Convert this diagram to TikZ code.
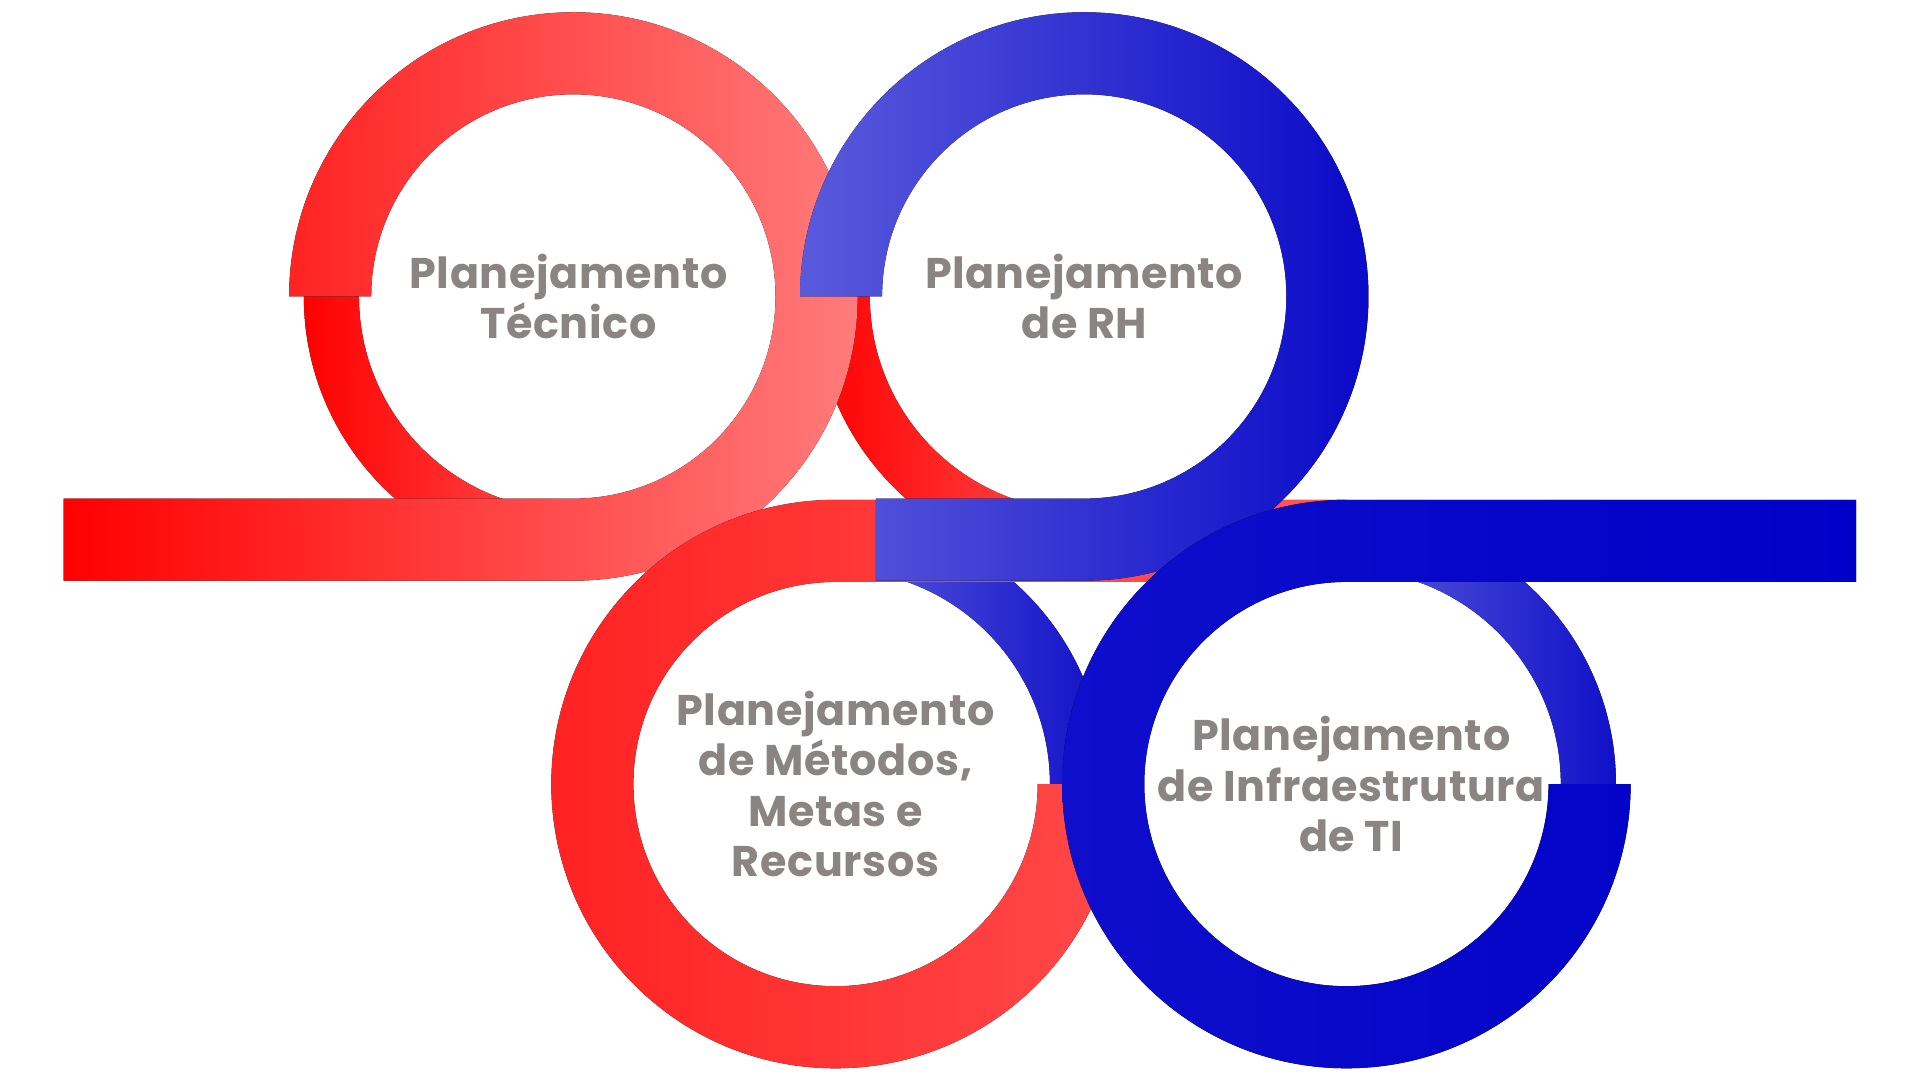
\documentclass[tikz,border=0pt]{standalone}
\usepackage{fontspec}
\setmainfont{Poppins}[LetterSpace=1.5]
\usetikzlibrary{positioning}

\definecolor{redA}{HTML}{FF0000}
\definecolor{redB}{HTML}{FF7B7B}
\definecolor{redC}{HTML}{FF2222}
\definecolor{redD}{HTML}{FF5858}
\definecolor{redE}{HTML}{FF5050}
\definecolor{blueA}{HTML}{5A5ADC}
\definecolor{blueB}{HTML}{0A0AC8}
\definecolor{blueC}{HTML}{1010C8}
\definecolor{blueD}{HTML}{0E0ECB}
\definecolor{blueE}{HTML}{0000C8}
\definecolor{txtgray}{HTML}{8A8482}

\begin{document}
\begin{tikzpicture}[
    x=1pt, y=1pt,
    % --- STYLES ---
    label/.style={
        font=\fontsize{35}{41}\selectfont\bfseries,
        text=txtgray, align=center, inner sep=0pt
    },
    redfront/.style={left color=redA, right color=redB},
    redback/.style={left color=redA, right color=redE},
    redlow/.style={left color=redC, right color=redD},
    bluefront/.style={left color=blueA, right color=blueB},
    blueback/.style={left color=blueA, right color=blueC},
    bluedeep/.style={left color=blueD, right color=blueE}
]

% ===== 1. SIZES =====
\def\Rout{232}  % anel da frente
\def\Rin{165}
\def\Bout{220}  % anel de tras
\def\Bin{175}

\useasboundingbox (0,0) rectangle (1568,882);

% ===== 2. ANEIS DE TRAS =====
\fill[redback] (468-\Bout,640) arc[start angle=180, end angle=270, radius=\Bout]
    -- (468,640-\Bin) arc[start angle=270, end angle=180, radius=\Bin] -- cycle;
\fill[redback] (885-\Bout,640) arc[start angle=180, end angle=270, radius=\Bout]
    -- (885,640-\Bin) arc[start angle=270, end angle=180, radius=\Bin] -- cycle;

% ===== 3. ANEL 1 (FRENTE) =====
\fill[redfront] (52,408) -- (468,408)
    arc[start angle=-90, end angle=180, radius=\Rout] -- (468-\Rin,640)
    arc[start angle=180, end angle=-90, radius=\Rin] -- (52,475) -- cycle;

% ===== 4. ANEL 3 =====
\fill[blueback] (682+\Bout,242) arc[start angle=0, end angle=90, radius=\Bout]
    -- (682,242+\Bin) arc[start angle=90, end angle=0, radius=\Bin] -- cycle;
\fill[redlow] (682+\Rout,242)
    arc[start angle=0, end angle=-270, radius=\Rout] -- (1099,474) -- (1099,407)
    -- (682,407) arc[start angle=90, end angle=360, radius=\Rin] -- cycle;

% ===== 5. ANEL 2 (FRENTE) =====
\fill[bluefront] (885-\Rout,640)
    arc[start angle=180, end angle=-90, radius=\Rout] -- (715,408) -- (715,475)
    -- (885,475) arc[start angle=-90, end angle=180, radius=\Rin] -- cycle;

% ===== 6. ANEL 4 =====
\fill[blueback] (1099+\Bout,242) arc[start angle=0, end angle=90, radius=\Bout]
    -- (1099,242+\Bin) arc[start angle=90, end angle=0, radius=\Bin] -- cycle;
\fill[bluedeep] (1099+\Rout,242)
    arc[start angle=0, end angle=-270, radius=\Rout] -- (1515,474) -- (1515,407)
    -- (1099,407) arc[start angle=90, end angle=360, radius=\Rin] -- cycle;

% ===== 7. TEXTOS =====
\node[label] (tecnico) at (464,640) {Planejamento\\Técnico};
\node[label] (rh) at (885,640) {Planejamento\\de RH};
\node[label] (metodos) at (682,242) {Planejamento\\de Métodos,\\Metas e\\Recursos};
\node[label] (infra) at (1103,242) {Planejamento\\de Infraestrutura\\de TI};

\end{tikzpicture}
\end{document}
